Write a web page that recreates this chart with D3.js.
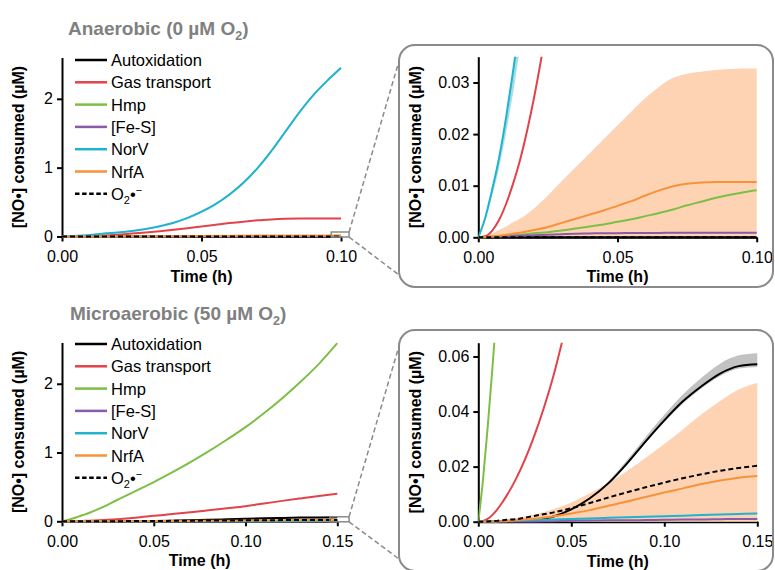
<!DOCTYPE html>
<html>
<head>
<meta charset="utf-8">
<script src="https://cdn.jsdelivr.net/npm/d3@7/dist/d3.min.js"></script>
<style>
  body { margin: 0; background: #ffffff; }
  svg { font-family: "Liberation Sans", Arial, Helvetica, sans-serif; }
</style>
</head>
<body>
<svg id="chart" width="775" height="570"></svg>
<script>
// ---- anaerobic (0 uM O2) ----
var anaTime  = [0, 0.0025, 0.005, 0.0075, 0.01, 0.0125, 0.015, 0.02, 0.025, 0.03, 0.035, 0.04,
                0.045, 0.05, 0.055, 0.06, 0.065, 0.07, 0.075, 0.08, 0.085, 0.09, 0.095, 0.1];
var anaAutox = [0, 0, 0, 0, 0, 0, 0, 0, 0, 0, 0, 0, 0, 0, 0, 0, 0, 0, 0, 0, 0, 0, 0, 0];
var anaGas   = [0, 0.0002, 0.0013, 0.0034, 0.0065, 0.0104, 0.015, 0.027, 0.042, 0.058, 0.076, 0.097,
                0.12, 0.145, 0.17, 0.195, 0.215, 0.235, 0.248, 0.257, 0.262, 0.263, 0.263, 0.263];
var anaHmp   = [0, 0.00003, 0.0001, 0.0002, 0.0003, 0.0004, 0.0005, 0.0008, 0.001, 0.0013, 0.0017, 0.0021,
                0.0025, 0.003, 0.0035, 0.0041, 0.0047, 0.0054, 0.0062, 0.0069, 0.0076, 0.0082, 0.0087, 0.0091];
var anaFeS   = [0, 0.00005, 0.0001, 0.00015, 0.0002, 0.00025, 0.0003, 0.0004, 0.0005, 0.0006, 0.0007, 0.00075,
                0.0008, 0.0008, 0.00085, 0.00085, 0.00085, 0.0009, 0.0009, 0.0009, 0.0009, 0.0009, 0.0009, 0.0009];
var anaNorV  = [0, 0.0038, 0.0093, 0.0155, 0.0233, 0.0322, 0.042, 0.058, 0.08, 0.11, 0.15, 0.2,
                0.27, 0.36, 0.47, 0.61, 0.78, 0.99, 1.24, 1.52, 1.8, 2.05, 2.26, 2.45];
var anaNorVLo = [0, 0.0033, 0.0081, 0.0135, 0.0203, 0.028, 0.0366, 0.051, 0.072, 0.1, 0.138, 0.186,
                 0.255, 0.343, 0.452, 0.59, 0.76, 0.97, 1.22, 1.5, 1.78, 2.03, 2.24, 2.43];
var anaNorVHi = [0, 0.0039, 0.0095, 0.0158, 0.0237, 0.0327, 0.0427, 0.059, 0.081, 0.111, 0.151, 0.201,
                 0.271, 0.361, 0.471, 0.611, 0.781, 0.991, 1.241, 1.521, 1.801, 2.051, 2.261, 2.451];
var anaNrfA  = [0, 0.00005, 0.0002, 0.0003, 0.0005, 0.0007, 0.0009, 0.0014, 0.002, 0.0028, 0.0036, 0.0044,
                0.0052, 0.0061, 0.007, 0.0081, 0.0091, 0.0099, 0.0104, 0.0106, 0.0107, 0.0107, 0.0107, 0.0107];
var anaNrfAHi = [0, 0.0003, 0.0008, 0.0014, 0.0021, 0.0029, 0.0036, 0.0056, 0.0081, 0.0109, 0.0136, 0.0163,
                 0.019, 0.0217, 0.0244, 0.027, 0.0292, 0.0309, 0.0317, 0.0321, 0.0324, 0.0326, 0.0327, 0.0327];
var anaO2    = [0, 0, 0, 0, 0, 0, 0, 0, 0, 0, 0, 0, 0, 0, 0, 0, 0, 0, 0, 0, 0, 0, 0, 0];

// ---- microaerobic (50 uM O2) ----
var micTime  = [0, 0.0025, 0.005, 0.0075, 0.01, 0.0125, 0.015, 0.02, 0.03, 0.04, 0.05,
                0.06, 0.07, 0.08, 0.09, 0.1, 0.11, 0.12, 0.13, 0.14, 0.15];
var micAutox = [0, 0, 0, 0, 0, 0, 0.00001, 0.0001, 0.0005, 0.0018, 0.0045,
                0.0085, 0.014, 0.0212, 0.0292, 0.0368, 0.0437, 0.0492, 0.0538, 0.0565, 0.0572];
var micAutoxLo = [0, 0, 0, 0, 0, 0, 0, 0.0001, 0.0005, 0.0018, 0.0044,
                  0.0083, 0.0137, 0.0208, 0.0287, 0.0361, 0.0429, 0.0484, 0.0529, 0.0556, 0.0562];
var micAutoxHi = [0, 0, 0, 0, 0, 0, 0.00001, 0.0001, 0.0005, 0.0019, 0.0047,
                  0.0089, 0.0147, 0.0224, 0.0308, 0.0388, 0.0462, 0.0523, 0.0574, 0.0604, 0.0612];
var micGas   = [0, 0.0003, 0.001, 0.0024, 0.0043, 0.0066, 0.0092, 0.0152, 0.031, 0.052, 0.079,
                0.105, 0.132, 0.161, 0.19, 0.22, 0.258, 0.297, 0.333, 0.368, 0.4];
var micHmp   = [0, 0.015, 0.034, 0.055, 0.078, 0.1, 0.125, 0.18, 0.31, 0.44, 0.57,
                0.71, 0.86, 1.02, 1.19, 1.37, 1.57, 1.79, 2.03, 2.29, 2.59];
var micFeS   = [0, 0, 0.00001, 0.00002, 0.00003, 0.00004, 0.00005, 0.00007, 0.0001, 0.0002, 0.0003,
                0.0004, 0.0005, 0.0005, 0.0006, 0.0007, 0.0008, 0.0008, 0.0009, 0.001, 0.001];
var micNorV  = [0, 0.00005, 0.0001, 0.00015, 0.0002, 0.00025, 0.0003, 0.0004, 0.0006, 0.0008, 0.001,
                0.0012, 0.0014, 0.0016, 0.0018, 0.002, 0.0022, 0.0024, 0.0026, 0.0028, 0.003];
var micNrfA  = [0, 0.00001, 0.00003, 0.00006, 0.0001, 0.00015, 0.0002, 0.0005, 0.0011, 0.0019, 0.003,
                0.0042, 0.0058, 0.0073, 0.009, 0.0106, 0.0121, 0.0137, 0.015, 0.016, 0.0166];
var micNrfAHi = [0, 0.00002, 0.0001, 0.0002, 0.0004, 0.0006, 0.0008, 0.0013, 0.0025, 0.0044, 0.007,
                 0.0103, 0.0141, 0.0184, 0.0232, 0.0282, 0.0335, 0.039, 0.0438, 0.048, 0.0504];
var micO2    = [0, 0.00002, 0.0001, 0.0002, 0.0003, 0.0005, 0.0007, 0.0009, 0.0021, 0.0033, 0.0049,
                0.0068, 0.0088, 0.0107, 0.0125, 0.0142, 0.0158, 0.0172, 0.0185, 0.0195, 0.0203];

// ---- axes ticks ----
var anaMainYTicks = [0, 1, 2];
var anaZoomYTicks = [0, 0.01, 0.02, 0.03];
var anaXTicks = [0, 0.05, 0.1];
var micMainYTicks = [0, 1, 2];
var micZoomYTicks = [0, 0.02, 0.04, 0.06];
var micXTicks = [0, 0.05, 0.1, 0.15];

var seriesInfo = [
    {key: "autox", name: "Autoxidation", color: "#000000", dash: null},
    {key: "gas",   name: "Gas transport", color: "#e2434a", dash: null},
    {key: "hmp",   name: "Hmp", color: "#7dbf46", dash: null},
    {key: "fes",   name: "[Fe-S]", color: "#8a5ba8", dash: null},
    {key: "norv",  name: "NorV", color: "#1fb3cd", dash: null},
    {key: "nrfa",  name: "NrfA", color: "#f7923a", dash: null},
    {key: "o2",    name: "O2", color: "#000000", dash: "5,3"}
];

var anaSeries = {autox: anaAutox, gas: anaGas, hmp: anaHmp, fes: anaFeS, norv: anaNorV, nrfa: anaNrfA, o2: anaO2};
var micSeries = {autox: micAutox, gas: micGas, hmp: micHmp, fes: micFeS, norv: micNorV, nrfa: micNrfA, o2: micO2};
var zeroA = anaTime.map(function () { return 0; });
var zeroM = micTime.map(function () { return 0; });
var anaBands = [
    {lo: zeroA, hi: anaNrfAHi, color: "#fdd3b4"},
    {lo: anaNorVLo, hi: anaNorVHi, color: "#a7dde9"}
];
var micBands = [
    {lo: zeroM, hi: micNrfAHi, color: "#fdd3b4"},
    {lo: micAutoxLo, hi: micAutoxHi, color: "#c2c2c2"}
];

var svg = d3.select("#chart");
var GREY = "#8a8a8a";

function styleAxis(ax) {
    ax.select(".domain").attr("stroke", "#000").attr("stroke-width", 2);
    ax.selectAll(".tick line").attr("stroke", "#000").attr("stroke-width", 2);
    ax.selectAll(".tick text").attr("fill", "#000").style("font-size", "16px")
        .style("font-family", "'Liberation Sans', Arial, sans-serif");
}

function drawPanel(cfg) {
    var x = d3.scaleLinear().domain([0, cfg.xMax]).range([cfg.left, cfg.right]);
    var y = d3.scaleLinear().domain([0, cfg.yMax]).range([cfg.bottom, cfg.top]);
    var g = svg.append("g");

    var xAxis = g.append("g").attr("transform", "translate(0," + cfg.bottom + ")")
        .call(d3.axisBottom(x).tickValues(cfg.xTicks).tickFormat(d3.format(".2f"))
            .tickSize(5).tickSizeOuter(0).tickPadding(9));
    styleAxis(xAxis);
    var yAxis = g.append("g").attr("transform", "translate(" + cfg.left + ",0)")
        .call(d3.axisLeft(y).tickValues(cfg.yTicks).tickFormat(d3.format(cfg.yFormat))
            .tickSize(5).tickSizeOuter(0).tickPadding(4));
    styleAxis(yAxis);

    g.append("text")
        .attr("x", (cfg.left + cfg.right) / 2).attr("y", cfg.bottom + 45)
        .attr("text-anchor", "middle").style("font-size", "16px").style("font-weight", "bold")
        .text("Time (h)");
    g.append("text")
        .attr("transform", "translate(" + cfg.yLabelX + "," + ((cfg.top + cfg.bottom) / 2) + ") rotate(-90)")
        .attr("text-anchor", "middle").attr("dy", "0.35em")
        .style("font-size", "16px").style("font-weight", "bold")
        .text("[NO\u2022] consumed (\u00b5M)");

    // clip the data to the plotting region (so zoomed curves stop at axis top)
    svg.append("clipPath").attr("id", "clip-" + cfg.id).append("rect")
        .attr("x", cfg.left).attr("y", cfg.top)
        .attr("width", cfg.right - cfg.left + 2).attr("height", cfg.bottom - cfg.top + 3);
    var plot = g.append("g").attr("clip-path", "url(#clip-" + cfg.id + ")");

    cfg.bands.forEach(function (b) {
        var area = d3.area()
            .x(function (d, i) { return x(cfg.times[i]); })
            .y0(function (d, i) { return y(b.lo[i]); })
            .y1(function (d, i) { return y(b.hi[i]); })
            .curve(d3.curveMonotoneX);
        plot.append("path").datum(b.hi).attr("d", area).attr("fill", b.color);
    });

    var line = d3.line()
        .x(function (d, i) { return x(cfg.times[i]); })
        .y(function (d) { return y(d); })
        .curve(d3.curveMonotoneX);
    seriesInfo.forEach(function (s) {
        plot.append("path").datum(cfg.series[s.key])
            .attr("d", line)
            .attr("fill", "none")
            .attr("stroke", s.color)
            .attr("stroke-width", 2)
            .attr("stroke-dasharray", s.dash);
    });
    return {x: x, y: y};
}

function drawTitle(xPos, yPos, label) {
    var t = svg.append("text").attr("x", xPos).attr("y", yPos)
        .style("font-size", "19px").style("font-weight", "bold").attr("fill", "#808080");
    t.append("tspan").text(label + " \u00b5M O");
    t.append("tspan").attr("dy", 5).style("font-size", "12.5px").text("2");
    t.append("tspan").attr("dy", -5).text(")");
}

function drawLegend(yStart) {
    var lg = svg.append("g");
    seriesInfo.forEach(function (s, i) {
        var yy = yStart + i * 22.3;
        lg.append("line").attr("x1", 75).attr("x2", 107).attr("y1", yy).attr("y2", yy)
            .attr("stroke", s.color).attr("stroke-width", 2.5)
            .attr("stroke-dasharray", s.dash ? "4.5,2.6" : null);
        var t = lg.append("text").attr("x", 111).attr("y", yy + 6).style("font-size", "16.5px");
        if (s.key === "o2") {
            t.append("tspan").text("O");
            t.append("tspan").attr("dy", 4).style("font-size", "11px").text("2");
            t.append("tspan").attr("dy", -4).text("\u2022");
            t.append("tspan").attr("dy", -6).style("font-size", "11px").text("\u2212");
        } else {
            t.text(s.name);
        }
    });
}

// small marker rect on the main axis, dashed leader lines, rounded inset frame
function drawZoomFrame(main, xFrom, xTo, box) {
    var rx0 = main.x(xFrom), rx1 = main.x(xTo);
    var ry0 = main.y(0) - 4.5, ry1 = main.y(0) + 0.5;
    var frame = svg.append("g").attr("class", "zoom-frame");
    frame.append("path")
        .attr("d", "M" + rx1 + "," + ry0 + "L" + box.x + "," + (box.y + 16))
        .attr("fill", "none").attr("stroke", GREY).attr("stroke-width", 1.5).attr("stroke-dasharray", "5,3");
    frame.append("path")
        .attr("d", "M" + rx1 + "," + ry1 + "L" + box.x + "," + (box.y + box.h - 12))
        .attr("fill", "none").attr("stroke", GREY).attr("stroke-width", 1.5).attr("stroke-dasharray", "5,3");
    frame.append("rect").attr("x", rx0).attr("y", ry0).attr("width", rx1 - rx0).attr("height", ry1 - ry0)
        .attr("fill", "none").attr("stroke", GREY).attr("stroke-width", 1.5);
    frame.append("rect").attr("x", box.x).attr("y", box.y).attr("width", box.w).attr("height", box.h)
        .attr("rx", 16).attr("ry", 16).attr("fill", "none").attr("stroke", GREY).attr("stroke-width", 2);
}

// ---------- top row: anaerobic ----------
drawTitle(68, 35, "Anaerobic (0");
var anaMain = drawPanel({id: "anaMain", left: 62, right: 341, top: 57.5, bottom: 236.5,
    xMax: 0.1, yMax: 2.6, xTicks: anaXTicks, yTicks: anaMainYTicks, yFormat: "d", yLabelX: 18,
    times: anaTime, series: anaSeries, bands: anaBands});
drawLegend(60);
drawPanel({id: "anaZoom", left: 478.3, right: 756.7, top: 56.7, bottom: 237.3,
    xMax: 0.1, yMax: 0.035, xTicks: anaXTicks, yTicks: anaZoomYTicks, yFormat: ".2f", yLabelX: 415,
    times: anaTime, series: anaSeries, bands: anaBands});
drawZoomFrame(anaMain, 0.0965, 0.1029, {x: 399, y: 45, w: 374, h: 242});

// ---------- bottom row: microaerobic ----------
drawTitle(70, 320, "Microaerobic (50");
var micMain = drawPanel({id: "micMain", left: 62, right: 337.3, top: 342.5, bottom: 521.3,
    xMax: 0.15, yMax: 2.6, xTicks: micXTicks, yTicks: micMainYTicks, yFormat: "d", yLabelX: 18,
    times: micTime, series: micSeries, bands: micBands});
drawLegend(344);
drawPanel({id: "micZoom", left: 478.3, right: 757.3, top: 342.7, bottom: 521.7,
    xMax: 0.15, yMax: 0.065, xTicks: micXTicks, yTicks: micZoomYTicks, yFormat: ".2f", yLabelX: 415,
    times: micTime, series: micSeries, bands: micBands});
drawZoomFrame(micMain, 0.146, 0.1564, {x: 399, y: 330, w: 374, h: 241});
</script>
</body>
</html>
